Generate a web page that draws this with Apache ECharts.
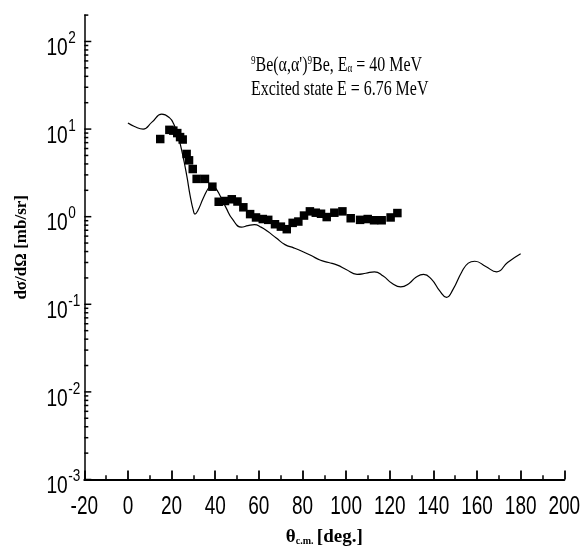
<!DOCTYPE html>
<html>
<head>
<meta charset="utf-8">
<script src="https://cdn.jsdelivr.net/npm/echarts@6/dist/echarts.min.js"></script>
<style>
 html, body { margin: 0; padding: 0; background: #fff; }
 #chart { width: 581px; height: 552px; }
</style>
</head>
<body>
<div id="chart"></div>
<script>
 // measured points (theta c.m., dsigma/dOmega)
 var expAngle = [14.8, 19.0, 20.8, 22.6, 23.9, 25.1, 26.9, 28.0, 29.7, 31.5, 35.3, 38.7, 41.6, 44.5, 47.6,
  50.2, 52.9, 56.0, 58.7, 61.8, 64.3, 67.4, 70.1, 72.8, 75.5, 78.1, 80.7, 83.4, 86.1, 88.5,
  91.1, 94.6, 98.3, 102.1, 106.4, 109.9, 112.8, 116.3, 120.4, 123.5];
 var expSigma = [7.7, 9.8, 9.6, 9.0, 8.1, 7.6, 5.2, 4.4, 3.5, 2.7, 2.7, 2.2, 1.48, 1.51, 1.58,
  1.49, 1.28, 1.07, 0.98, 0.94, 0.92, 0.82, 0.77, 0.72, 0.85, 0.88, 1.03, 1.15, 1.11, 1.08,
  0.99, 1.11, 1.15, 0.96, 0.92, 0.94, 0.91, 0.91, 0.98, 1.10];

 // calculated curve
 var calcAngle = [0, 3, 7, 11, 15.5, 19, 21, 23, 25, 27, 28.5, 30, 30.7, 32, 34.5, 37, 38.5, 40, 42, 45,
  48, 52, 55, 58, 61, 64, 68, 72, 76, 80, 84, 88, 92, 96, 100, 105, 109, 113, 117, 121,
  125, 129, 132, 135.5, 139, 143, 146, 149, 153, 156, 159, 164, 169, 174, 180];
 var calcSigma = [11.7, 10.7, 10.0, 12.0, 14.8, 13.5, 11.4, 8.3, 5.2, 2.9, 1.74, 1.17, 1.07, 1.17, 1.62, 2.14, 2.29, 2.14, 1.78, 1.26,
  0.93, 0.76, 0.79, 0.81, 0.76, 0.68, 0.57, 0.48, 0.44, 0.40, 0.36, 0.32, 0.30, 0.28, 0.25, 0.22, 0.226, 0.235, 0.21, 0.174,
  0.158, 0.174, 0.204, 0.22, 0.195, 0.141, 0.12, 0.148, 0.234, 0.295, 0.31, 0.27, 0.235, 0.30, 0.377];

 // axis ticks
 var xTicks = [-20, 0, 20, 40, 60, 80, 100, 120, 140, 160, 180, 200];
 var yMajor = [0.001, 0.01, 0.1, 1, 10, 100];
 var yMinor = [];
 for (var d = 0; d < yMajor.length; d++) {
  for (var k = 2; k <= 9; k++) {
   var mv = yMajor[d] * k;
   if (mv <= 200) yMinor.push(mv);
  }
 }

 var sans = '"Liberation Sans", Arial, sans-serif';
 var serif = '"Liberation Serif", "DejaVu Serif", serif';
 var squeeze = 0.76;

 var expPts = [];
 for (var i = 0; i < expAngle.length; i++) expPts.push([expAngle[i], expSigma[i]]);
 var calcPts = [];
 for (var j = 0; j < calcAngle.length; j++) calcPts.push([calcAngle[j], calcSigma[j]]);

 function tickSeries(values, len) {
  return {
   type: 'custom',
   silent: true,
   data: values.map(function(v) { return [-20, v]; }),
   renderItem: function(params, api) {
    var p = api.coord([api.value(0), api.value(1)]);
    return {
     type: 'line',
     shape: { x1: p[0], y1: p[1], x2: p[0] + len, y2: p[1] },
     style: { stroke: '#000', lineWidth: 1.5 }
    };
   },
   z: 5
  };
 }

 // x tick labels, narrow like the original
 var xLabelSeries = {
  type: 'custom',
  silent: true,
  data: xTicks.map(function(v) { return [v, 0.001]; }),
  renderItem: function(params, api) {
   var v = api.value(0);
   var p = api.coord([v, api.value(1)]);
   return {
    type: 'text',
    x: p[0], y: p[1] + 27.5,
    scaleX: squeeze,
    style: { text: String(v), font: '25px ' + sans, fill: '#000', align: 'center', verticalAlign: 'middle' }
   };
  }
 };

 // y tick labels as 10^n
 var yLabelSeries = {
  type: 'custom',
  silent: true,
  data: yMajor.map(function(v) { return [-20, v]; }),
  renderItem: function(params, api) {
   var v = api.value(1);
   var p = api.coord([api.value(0), v]);
   var e = Math.round(Math.log10(v));
   return {
    type: 'group',
    children: [
     {
      type: 'text',
      x: p[0] - 16.5, y: p[1] + 7,
      scaleX: squeeze + 0.04,
      style: { text: '10', font: '24px ' + sans, fill: '#000', align: 'right', verticalAlign: 'middle' }
     },
     {
      type: 'text',
      x: p[0] - 16, y: p[1] - 3,
      scaleX: squeeze + 0.04,
      style: { text: String(e), font: '17px ' + sans, fill: '#000', align: 'left', verticalAlign: 'middle' }
     }
    ]
   };
  }
 };

 var myChart = echarts.init(document.getElementById('chart'));
 var option = {
  animation: false,
  backgroundColor: '#fff',
  grid: { left: 84.3, right: 16.7, top: 15.1, bottom: 68.3 },
  xAxis: {
   type: 'value',
   min: -20,
   max: 200,
   interval: 20,
   axisLine: { onZero: false, lineStyle: { color: '#000', width: 2 } },
   axisTick: { show: true, inside: true, length: 9, lineStyle: { color: '#000', width: 1.8 } },
   minorTick: { show: true, splitNumber: 2, length: 4.3, lineStyle: { color: '#000', width: 1.5 } },
   splitLine: { show: false },
   axisLabel: { show: false },
   name: '{t|θ}{s|c.m.} {t|[deg.]}',
   nameLocation: 'middle',
   nameGap: 49,
   nameTextStyle: {
    rich: {
     t: { fontFamily: serif, fontWeight: 'bold', fontSize: 19, color: '#000', lineHeight: 18 },
     s: { fontFamily: serif, fontWeight: 'bold', fontSize: 10, color: '#000', verticalAlign: 'bottom', lineHeight: 6 }
    }
   }
  },
  yAxis: {
   type: 'log',
   logBase: 10,
   min: 0.001,
   max: 200,
   axisLine: { onZero: false, lineStyle: { color: '#000', width: 1.5 } },
   axisTick: { show: false },
   splitLine: { show: false },
   axisLabel: { show: false },
   name: 'dσ/dΩ [mb/sr]',
   nameLocation: 'middle',
   nameGap: 54.5,
   nameTextStyle: { fontFamily: serif, fontWeight: 'bold', fontSize: 17, color: '#000' }
  },
  graphic: [
   {
    type: 'text',
    x: 251, y: 55, scaleX: squeeze,
    style: {
     text: '{p|9}{m|Be(α,α\')}{p|9}{m|Be, E}{q|α}{m| = 40 MeV}',
     rich: {
      m: { fontFamily: serif, fontSize: 21, fill: '#000', lineHeight: 20 },
      p: { fontFamily: serif, fontSize: 12, fill: '#000', verticalAlign: 'top', lineHeight: 12 },
      q: { fontFamily: serif, fontSize: 12, fill: '#000', verticalAlign: 'bottom', lineHeight: 6 }
     }
    }
   },
   {
    type: 'text',
    x: 251, y: 79, scaleX: squeeze,
    style: { text: 'Excited state E = 6.76 MeV', font: '21px ' + serif, fill: '#000' }
   }
  ],
  series: [
   {
    type: 'line',
    data: calcPts,
    smooth: 0.5,
    symbol: 'none',
    lineStyle: { color: '#000', width: 1.2 }
   },
   {
    type: 'scatter',
    data: expPts,
    symbol: 'rect',
    symbolSize: 8.5,
    itemStyle: { color: '#000', opacity: 1 }
   },
   tickSeries(yMajor, 7),
   tickSeries(yMinor, 4),
   xLabelSeries,
   yLabelSeries
  ]
 };
 myChart.setOption(option);
</script>
</body>
</html>
